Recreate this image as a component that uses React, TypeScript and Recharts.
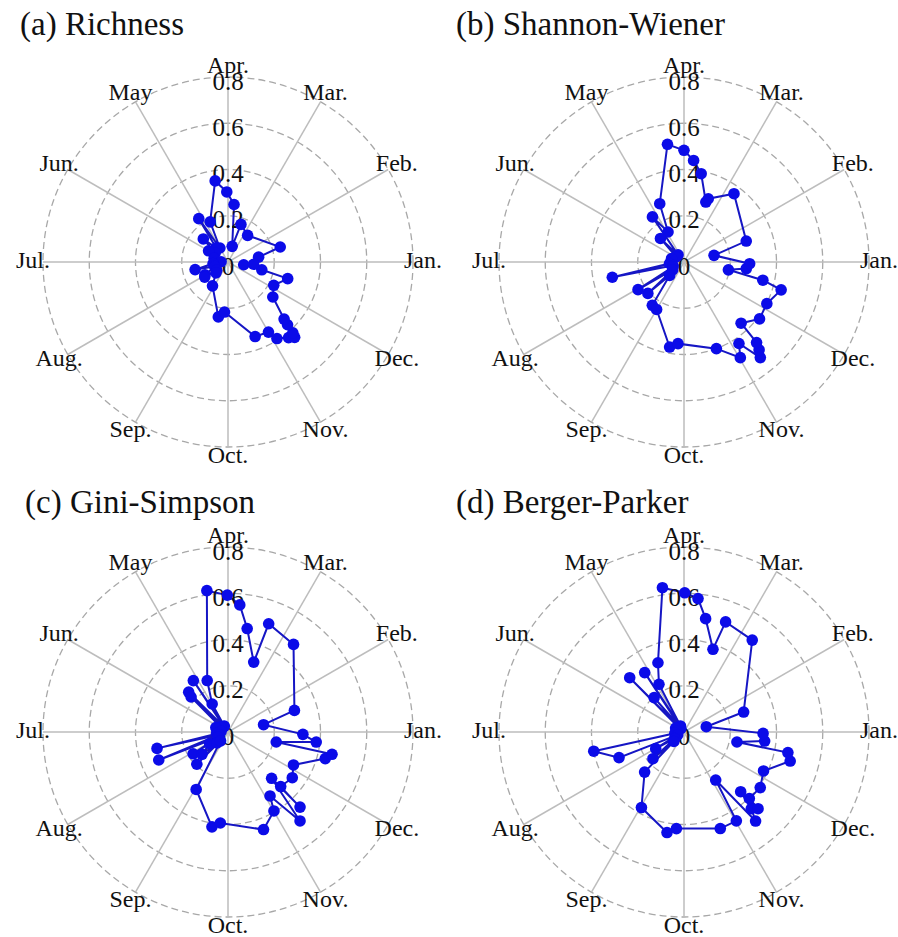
import { RadarChart, Radar, PolarGrid, PolarAngleAxis, PolarRadiusAxis } from 'recharts';

const SERIF = "'Liberation Serif', 'Times New Roman', serif";

const MONTHS = ['Jan.', 'Feb.', 'Mar.', 'Apr.', 'May', 'Jun.', 'Jul.', 'Aug.', 'Sep.', 'Oct.', 'Nov.', 'Dec.'];
const MONTH_ANGLES = [0, 30, 60, 90, 120, 150, 180, 210, 240, 270, 300, 330];
const RADIUS_TICKS = [0, 0.2, 0.4, 0.6, 0.8];

// sampling position on the year circle (deg, Jan = 0, counter-clockwise) and index value
const richnessAngle = [9, 16, 53.6, 71, 75, 84, 91, 99, 114, 120, 124, 130, 137, 145, 150, 165, 178, 186, 193, 199, 209, 213, 216, 222, 237, 260, 266, 290, 300, 302.6, 308.7, 311.5, 312.5, 313.5, 314.5, 322, 333, 344.4, 347, 350, 355];
const richnessValue = [0.134, 0.235, 0.143, 0.172, 0.07, 0.25, 0.303, 0.355, 0.19, 0.07, 0.226, 0.08, 0.146, 0.068, 0.097, 0.062, 0.03, 0.065, 0.146, 0.06, 0.114, 0.12, 0.06, 0.07, 0.123, 0.241, 0.217, 0.343, 0.35, 0.393, 0.419, 0.435, 0.415, 0.374, 0.346, 0.246, 0.222, 0.268, 0.15, 0.069, 0.111];

const shannonAngle = [12.5, 18.6, 53.8, 69, 70, 79, 84.6, 90, 98, 112.6, 118, 125, 130, 135, 147, 165, 186, 192, 198, 204, 211, 215, 221, 223, 233.8, 240, 260.4, 265.8, 290.5, 300.5, 304, 308.6, 310.5, 312, 313, 323, 333.3, 344, 347, 350, 354, 358.5];
const shannonValue = [0.133, 0.284, 0.366, 0.293, 0.276, 0.389, 0.441, 0.483, 0.514, 0.273, 0.147, 0.238, 0.04, 0.144, 0.04, 0.056, 0.063, 0.317, 0.05, 0.052, 0.232, 0.06, 0.207, 0.085, 0.232, 0.237, 0.373, 0.354, 0.4, 0.48, 0.425, 0.529, 0.5, 0.469, 0.362, 0.409, 0.401, 0.437, 0.35, 0.195, 0.271, 0.284];

const giniAngle = [11.6, 18, 53.2, 69.4, 69.8, 79.5, 84.7, 90.3, 98.5, 112, 119.5, 122, 124, 128, 134.6, 135.5, 136.5, 145, 160, 175, 188, 193, 197, 202, 207, 212, 212.5, 220.7, 225, 226, 230, 241, 260.4, 265.2, 290, 300.2, 303.3, 309, 313.3, 313.8, 314, 324.6, 333.3, 344.7, 347.9, 348.3, 353.5, 358.2];
const giniValue = [0.157, 0.302, 0.473, 0.5, 0.322, 0.455, 0.552, 0.592, 0.618, 0.24, 0.139, 0.03, 0.268, 0.03, 0.242, 0.03, 0.22, 0.04, 0.056, 0.03, 0.05, 0.315, 0.04, 0.323, 0.05, 0.178, 0.094, 0.148, 0.067, 0.194, 0.05, 0.284, 0.416, 0.395, 0.449, 0.395, 0.331, 0.495, 0.275, 0.45, 0.328, 0.341, 0.317, 0.436, 0.46, 0.213, 0.384, 0.324];

const bergerAngle = [13.4, 18.5, 53.4, 69.3, 70.7, 79.2, 84, 89.7, 98.5, 110.6, 117.7, 120, 123.5, 128, 131, 133, 135, 140, 155, 175, 188, 192, 201.5, 205, 210.5, 215, 220.7, 223, 225.5, 240.6, 260.4, 265.5, 290.6, 300.5, 303.4, 308.8, 311.3, 313.5, 314, 314.5, 323.9, 333.9, 344.7, 348.8, 349.3, 353.6, 359];
const bergerValue = [0.099, 0.272, 0.495, 0.509, 0.379, 0.499, 0.58, 0.602, 0.631, 0.32, 0.233, 0.03, 0.308, 0.03, 0.197, 0.02, 0.332, 0.03, 0.04, 0.03, 0.04, 0.399, 0.302, 0.03, 0.142, 0.05, 0.177, 0.06, 0.243, 0.375, 0.441, 0.419, 0.446, 0.446, 0.249, 0.494, 0.441, 0.356, 0.461, 0.403, 0.408, 0.383, 0.476, 0.458, 0.233, 0.351, 0.342];

const MonthTick = (props: any) => {
  const { x, y, payload } = props;
  return (
    <text x={x} y={y - 2} dy="0.35em" textAnchor="middle" fontSize={24} fill="#111" fontFamily={SERIF}>
      {MONTHS[Math.round(payload.value / 30) % 12]}
    </text>
  );
};

const RadiusTick = (props: any) => {
  const { x, y, payload } = props;
  return (
    <text x={x} y={y} dy="0.5em" textAnchor="middle" fontSize={25} fill="#111" fontFamily={SERIF}>
      {payload.value}
    </text>
  );
};

const Dot = (props: any) => {
  const { cx, cy, index } = props;
  return <circle key={`d-${index}`} cx={cx} cy={cy} r={5.8} fill="#0b0be8" />;
};

type PanelProps = {
  title: string;
  angles: number[];
  values: number[];
  left: number;
  top: number;
  height: number;
  cx: number;
  cy: number;
  titleLeft: number;
  titleTop: number;
};

const Panel = ({ title, angles, values, left, top, height, cx, cy, titleLeft, titleTop }: PanelProps) => {
  const rows = angles.map((a, i) => ({ angle: a, value: values[i] }));
  return (
    <div style={{ position: 'absolute', left, top, width: 449, height }}>
      <RadarChart width={449} height={height} data={rows} cx={cx} cy={cy} outerRadius={185} startAngle={0} endAngle={360}>
        <PolarGrid gridType="circle" radialLines={false} stroke="#a8a8a8" strokeWidth={1.3} strokeDasharray="7 4" />
        <PolarGrid gridType="circle" polarRadius={[]} stroke="#bdbdbd" strokeWidth={1.5} />
        <Radar
          dataKey="value"
          stroke="#1616c4"
          strokeWidth={2}
          fill="none"
          fillOpacity={0}
          dot={Dot}
          isAnimationActive={false}
        />
        <PolarAngleAxis
          dataKey="angle"
          type="number"
          domain={[0, 360]}
          ticks={MONTH_ANGLES}
          tick={MonthTick}
          tickLine={false}
          axisLine={false}
          tickSize={10}
        />
        <PolarRadiusAxis
          type="number"
          angle={90}
          domain={[0, 0.8]}
          allowDataOverflow
          allowDecimals
          tickCount={5}
          ticks={RADIUS_TICKS}
          tick={RadiusTick}
          axisLine={false}
          tickLine={false}
        />
      </RadarChart>
      <div
        style={{
          position: 'absolute',
          left: titleLeft,
          top: titleTop,
          fontFamily: SERIF,
          fontSize: 33,
          lineHeight: '33px',
          color: '#111',
          whiteSpace: 'nowrap',
        }}
      >
        {title}
      </div>
    </div>
  );
};

export default function App() {
  return (
    <div style={{ position: 'absolute', left: 0, top: 0, width: 898, height: 937, background: '#fff', overflow: 'hidden' }}>
      <Panel title="(a) Richness" angles={richnessAngle} values={richnessValue} left={0} top={0} height={480} cx={228} cy={262} titleLeft={20} titleTop={8} />
      <Panel title="(b) Shannon-Wiener" angles={shannonAngle} values={shannonValue} left={449} top={0} height={480} cx={235} cy={262} titleLeft={7} titleTop={8} />
      <Panel title="(c) Gini-Simpson" angles={giniAngle} values={giniValue} left={0} top={470} height={467} cx={228} cy={262} titleLeft={25} titleTop={16} />
      <Panel title="(d) Berger-Parker" angles={bergerAngle} values={bergerValue} left={449} top={470} height={467} cx={235} cy={262} titleLeft={7} titleTop={16} />
    </div>
  );
}
